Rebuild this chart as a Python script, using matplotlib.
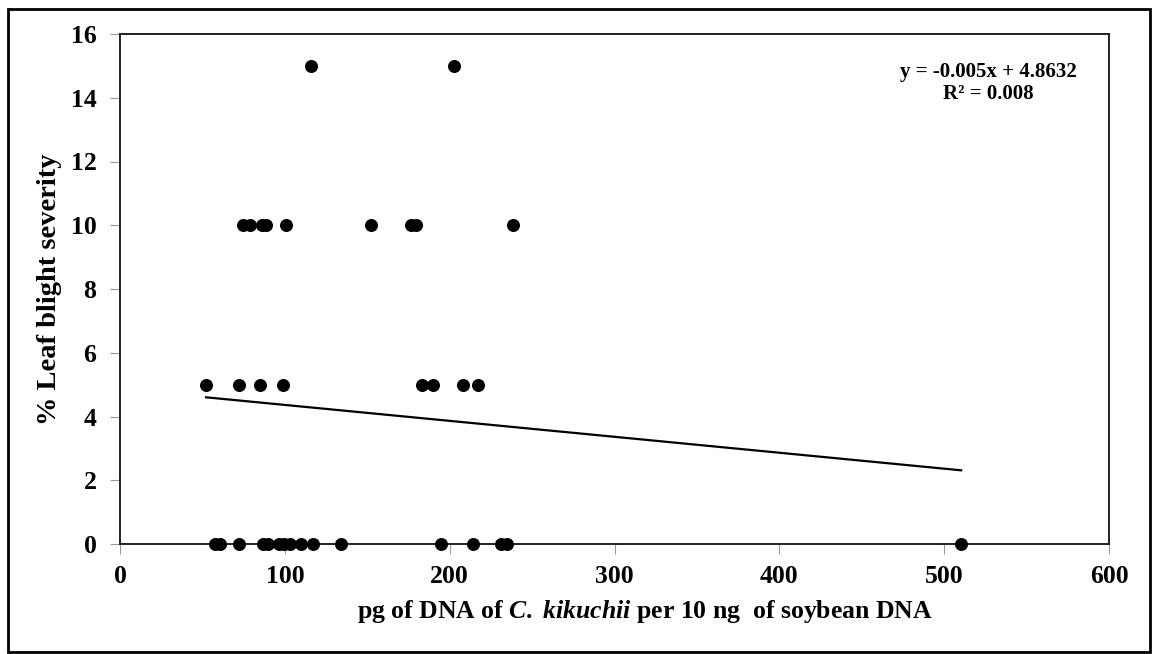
import numpy as np
import matplotlib
matplotlib.use('Agg')
import matplotlib.pyplot as plt
from matplotlib.patches import Rectangle

plt.rcParams['font.family'] = ['Liberation Serif', 'DejaVu Serif']
plt.rcParams['font.weight'] = 'bold'
plt.rcParams['mathtext.fontset'] = 'custom'
plt.rcParams['mathtext.rm'] = 'Liberation Serif:bold'
plt.rcParams['mathtext.it'] = 'Liberation Serif:italic:bold'

# pg of C. kikuchii DNA per 10 ng soybean DNA, grouped by % leaf blight severity
dna_0 = [57.6, 60.7, 72.2, 86.8, 89.8, 96.5, 99.5, 103.2, 109.8, 117.1,
         134.1, 194.8, 214.2, 231.2, 234.8, 510.3]
dna_5 = [52.2, 72.2, 85.0, 98.9, 183.3, 189.9, 208.1, 217.2]
dna_10 = [74.6, 78.9, 86.2, 88.6, 100.7, 152.3, 176.6, 179.6, 238.5]
dna_15 = [115.9, 202.7]

x = np.array(dna_0 + dna_5 + dna_10 + dna_15)
y = np.array([0] * len(dna_0) + [5] * len(dna_5) + [10] * len(dna_10) + [15] * len(dna_15))

slope, intercept = -0.005, 4.8632

fig = plt.figure(figsize=(11.6, 6.54), dpi=100)
ax = fig.add_axes([120 / 1160, 1 - 544 / 654, (1109 - 120) / 1160, (544 - 34) / 654])

ax.scatter(x, y, s=70, color='black', zorder=3, clip_on=False)
xl = np.array([x.min(), x.max()])
ax.plot(xl, slope * xl + intercept, color='black', lw=1.6, zorder=2)

ax.set_xlim(0, 600)
ax.set_ylim(0, 16)
ax.set_xticks(range(0, 601, 100))
ax.set_yticks(range(0, 17, 2))
ax.tick_params(direction='out', length=7, width=0.8, color='#999999', labelsize=18.5)
ax.tick_params(axis='x', pad=8)
ax.tick_params(axis='y', pad=10)
for lab in ax.get_xticklabels() + ax.get_yticklabels():
    lab.set_fontweight('bold')
for s in ax.spines.values():
    s.set_color('#222222')
    s.set_linewidth(1.4)

ax.set_xlabel(r'pg of DNA of $\mathit{C.}$ $\mathit{kikuchii}$ per 10 ng  of soybean DNA',
              fontsize=18.5, fontweight='bold')
ax.xaxis.set_label_coords(0.531, -0.105)
ax.set_ylabel('% Leaf blight severity', fontsize=20.5, fontweight='bold')
ax.yaxis.set_label_coords(-0.059, 0.5)

ax.text(0.878, 0.904, 'y = -0.005x + 4.8632\nR² = 0.008', transform=ax.transAxes,
        ha='center', va='center', fontsize=15, fontweight='bold', linespacing=1.15)

fig.patches.append(Rectangle((8 / 1160, 1 - 652 / 654), 1142 / 1160, 643 / 654,
                             transform=fig.transFigure, fill=False,
                             edgecolor='black', lw=2))

fig.savefig('out.png', dpi=100)
